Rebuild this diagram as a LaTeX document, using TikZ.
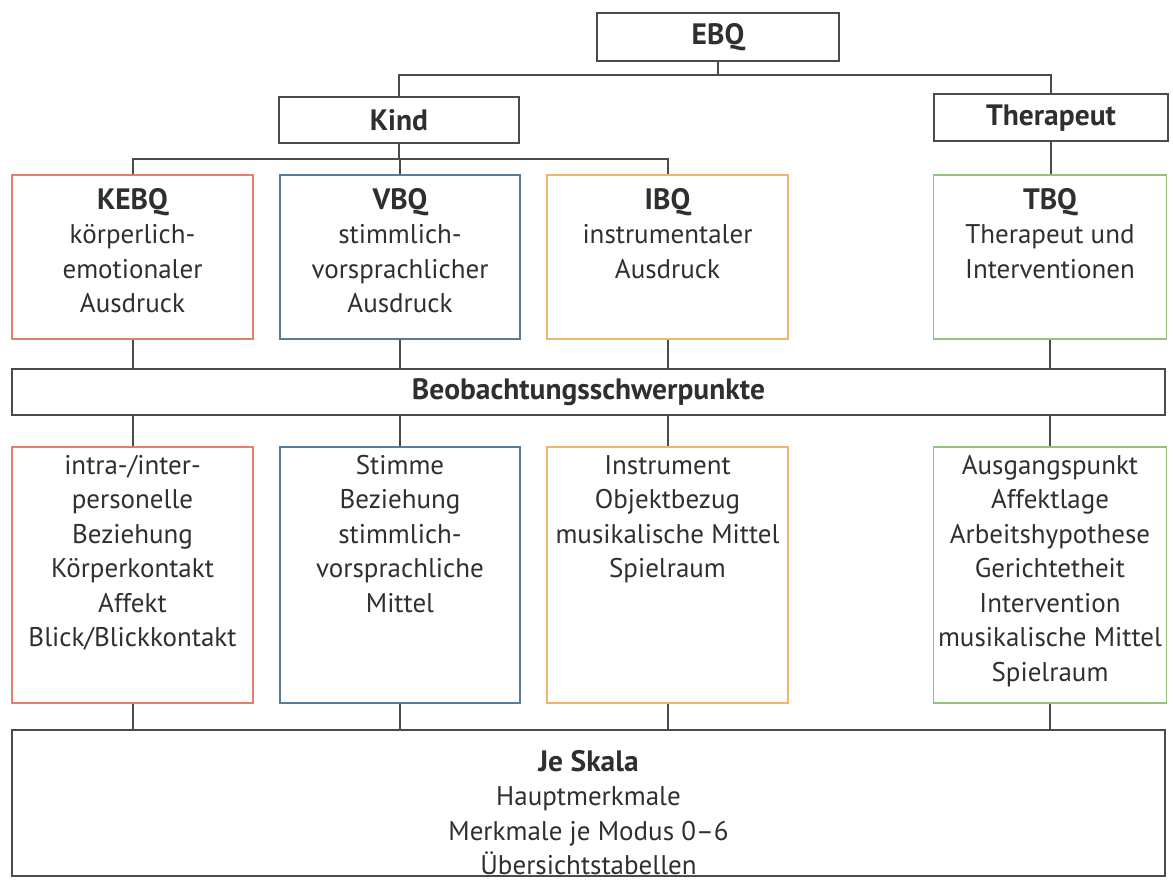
\documentclass[tikz,border=0pt]{standalone}
\usepackage{fontspec}
\setmainfont{PT Sans}
\definecolor{frame}{HTML}{4A4A4A}
\definecolor{txt}{HTML}{2F2F2F}
\definecolor{cred}{HTML}{E0806E}
\definecolor{cblue}{HTML}{5A7C98}
\definecolor{corange}{HTML}{EDB66C}
\definecolor{cgreen}{HTML}{92C27E}
\newcommand{\hdfont}{\fontsize{29.5}{34.5}\selectfont\bfseries}
\tikzset{
  every node/.style={text=txt, font=\fontsize{27}{34.5}\selectfont},
  graybox/.style={draw=frame, line width=2pt, inner sep=0pt},
  colbox/.style={line width=1.6pt, inner sep=0pt, minimum height=164pt},
  lowbox/.style={line width=1.6pt, inner sep=0pt, minimum height=256pt},
  boxtext/.style={anchor=north, align=center, inner sep=0pt},
  conn/.style={draw=frame, line width=2pt},
  hd/.style={font=\hdfont},
}
\begin{document}
\begin{tikzpicture}[x=1pt,y=-1pt]
\useasboundingbox (0,0) rectangle (1173,882);
% top level
\node[graybox, hd, minimum width=242pt, minimum height=48pt] (ebq) at (718,37) {EBQ};
\node[graybox, hd, minimum width=240pt, minimum height=46pt] (kind) at (399,120) {Kind};
\node[graybox, hd, minimum width=234pt, minimum height=47pt] (ther) at (1051,118) {Therapeut};
\coordinate (bus1) at (0,75);
\coordinate (bus2) at (0,159);
% row 1
\node[colbox, draw=cred, minimum width=241pt] (kebq) at (132.5,257) {};
\node[colbox, draw=cblue, minimum width=240pt] (vbq) at (400,257) {};
\node[colbox, draw=corange, minimum width=241pt] (ibq) at (667.5,257) {};
\node[colbox, draw=cgreen, minimum width=233pt] (tbq) at (1050,257) {};
\node[boxtext] (kebqt) at (132.5,188) {{\hdfont KEBQ}\\körperlich-\\emotionaler\\Ausdruck};
\node[boxtext] (vbqt) at (400,188) {{\hdfont VBQ}\\stimmlich-\\vorsprachlicher\\Ausdruck};
\node[boxtext] (ibqt) at (667.5,188) {{\hdfont IBQ}\\instrumentaler\\Ausdruck};
\node[boxtext] (tbqt) at (1050,188) {{\hdfont TBQ}\\Therapeut und\\Interventionen};
% middle bar
\node[graybox, hd, minimum width=1153pt, minimum height=46pt] (beob) at (588.5,392) {Beobachtungsschwerpunkte};
% row 2
\node[lowbox, draw=cred, minimum width=241pt] (kebq2) at (132.5,575) {};
\node[lowbox, draw=cblue, minimum width=240pt] (vbq2) at (400,575) {};
\node[lowbox, draw=corange, minimum width=241pt] (ibq2) at (667.5,575) {};
\node[lowbox, draw=cgreen, minimum width=233pt] (tbq2) at (1050,575) {};
\node[boxtext] (kebq2t) at (132.5,455) {intra-/inter-\\personelle\\Beziehung\\Körperkontakt\\Affekt\\Blick/Blickkontakt};
\node[boxtext] (vbq2t) at (400,455) {Stimme\\Beziehung\\stimmlich-\\vorsprachliche\\Mittel};
\node[boxtext] (ibq2t) at (667.5,455) {Instrument\\Objektbezug\\musikalische Mittel\\Spielraum};
\node[boxtext] (tbq2t) at (1050,455) {Ausgangspunkt\\Affektlage\\Arbeitshypothese\\Gerichtetheit\\Intervention\\musikalische Mittel\\Spielraum};
% bottom
\node[graybox, minimum width=1153pt, minimum height=146pt] (je) at (588.5,803) {};
\node[boxtext] (jet) at (588.5,750) {{\hdfont Je Skala}\\Hauptmerkmale\\Merkmale je Modus 0–6\\Übersichtstabellen};
% connectors
\draw[conn] (ebq.south) -- (ebq.south |- bus1) -| (kind.north);
\draw[conn] (ebq.south |- bus1) -| (ther.north);
\draw[conn] (kind.south) -- (kind.south |- bus2);
\draw[conn] (kebq.north) |- (bus2 -| ibq.north) -- (ibq.north);
\draw[conn] (vbq.north) -- (vbq.north |- bus2);
\draw[conn] (ther.south) -- (ther.south |- tbq.north);
\foreach \b in {kebq,vbq,ibq,tbq}{
  \draw[conn] (\b.south) -- (\b.south |- beob.north);
  \draw[conn] (beob.south -| \b2.north) -- (\b2.north);
  \draw[conn] (\b2.south) -- (\b2.south |- je.north);
}
\end{tikzpicture}
\end{document}
